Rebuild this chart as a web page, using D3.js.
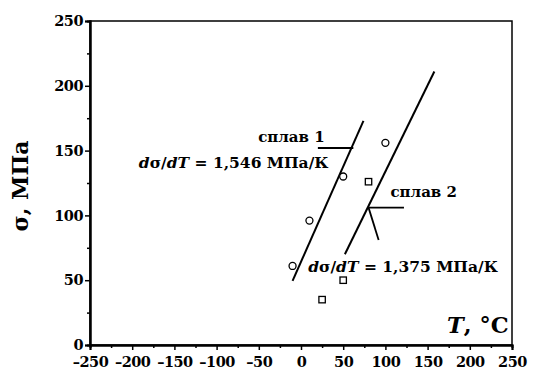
<!DOCTYPE html>
<html>
<head>
<meta charset="utf-8">
<script src="https://cdn.jsdelivr.net/npm/d3@7"></script>
<style>
  body { margin: 0; background: #fff; }
</style>
</head>
<body>
<script>
// data
var alloy1T = [-10, 10, 50, 100];
var alloy1S = [61, 96, 130, 156];
var alloy2T = [25, 50, 80];
var alloy2S = [35, 50, 126];
var fit1 = [[-10, 49.5], [74, 173]];
var fit2 = [[52, 70], [158, 211]];
var xTicks = [-250, -200, -150, -100, -50, 0, 50, 100, 150, 200, 250];
var yTicks = [0, 50, 100, 150, 200, 250];

var margin = {top: 21, right: 35, bottom: 27, left: 90},
    width = 547 - margin.left - margin.right,
    height = 372 - margin.top - margin.bottom;

var FONT = "DejaVu Serif";

var x = d3.scaleLinear().domain([-250, 250]).range([0, width]);
var y = d3.scaleLinear().domain([0, 250]).range([height, 0]);

var svg = d3.select("body").append("svg")
    .attr("width", 547)
    .attr("height", 372)
    .append("g")
    .attr("transform", "translate(" + margin.left + "," + margin.top + ")");

// frame
svg.append("rect")
    .attr("width", width)
    .attr("height", height)
    .style("fill", "none")
    .style("stroke", "#000")
    .style("stroke-width", 1.5);

var fmt = function(d) { return d < 0 ? "\u2013" + (-d) : d; };

// x axis
var xAxis = svg.append("g")
    .attr("transform", "translate(0," + height + ")")
    .call(d3.axisBottom(x).tickValues(xTicks).tickSize(5).tickPadding(4).tickFormat(fmt));
svg.append("g")
    .attr("transform", "translate(0," + height + ")")
    .call(d3.axisBottom(x).tickValues(d3.range(-225, 250, 50)).tickSize(3).tickFormat(""));

// y axis
var yAxis = svg.append("g")
    .call(d3.axisLeft(y).tickValues(yTicks).tickSize(5).tickPadding(2));
svg.append("g")
    .call(d3.axisLeft(y).tickValues(d3.range(25, 250, 50)).tickSize(3).tickFormat(""));

svg.selectAll(".domain").style("stroke-width", 2);
svg.selectAll(".tick line").style("stroke-width", 1.5);
svg.selectAll(".tick text")
    .style("font-size", "14.5px")
    .style("font-family", FONT)
    .style("font-weight", "bold")
    .style("letter-spacing", "-0.5px")
    .style("fill", "#000");
xAxis.selectAll(".tick text").attr("dy", "0.9em");

// fitted lines
var line = d3.line().x(function(d) { return x(d[0]); }).y(function(d) { return y(d[1]); });
[fit1, fit2].forEach(function(f) {
  svg.append("path")
      .attr("d", line(f))
      .style("fill", "none")
      .style("stroke", "#000")
      .style("stroke-width", 2);
});

// points
svg.selectAll("circle.a1")
    .data(d3.zip(alloy1T, alloy1S))
    .enter()
    .append("circle")
    .attr("cx", function(d) { return x(d[0]); })
    .attr("cy", function(d) { return y(d[1]); })
    .attr("r", 3.5)
    .style("fill", "#fff")
    .style("stroke", "#000")
    .style("stroke-width", 1.3);

svg.selectAll("rect.a2")
    .data(d3.zip(alloy2T, alloy2S))
    .enter()
    .append("rect")
    .attr("x", function(d) { return x(d[0]) - 3.2; })
    .attr("y", function(d) { return y(d[1]) - 3.2; })
    .attr("width", 6.4)
    .attr("height", 6.4)
    .style("fill", "#fff")
    .style("stroke", "#000")
    .style("stroke-width", 1.3);

// leader lines
function seg(a, b) {
  svg.append("line")
      .attr("x1", x(a[0])).attr("y1", y(a[1]))
      .attr("x2", x(b[0])).attr("y2", y(b[1]))
      .style("stroke", "#000").style("stroke-width", 1.8);
}
seg([20, 152], [62, 152]);
seg([80, 106], [122, 106]);
seg([80, 106], [92, 81]);

function label(xv, yv, anchor, size) {
  return svg.append("text")
      .attr("x", x(xv)).attr("y", y(yv))
      .attr("text-anchor", anchor)
      .style("font-family", FONT)
      .style("font-weight", "bold")
      .style("font-size", size + "px")
      .style("fill", "#000");
}

// annotations
label(28, 157, "end", 15).text("сплав 1");

var t1 = label(32.5, 136.3, "end", 15.5);
t1.append("tspan").style("font-style", "italic").text("d");
t1.append("tspan").text("σ/");
t1.append("tspan").style("font-style", "italic").text("dT");
t1.append("tspan").text(" = 1,546 МПа/К");

label(106, 114.5, "start", 15).text("сплав 2");

var t2 = label(8.5, 56.6, "start", 15.5);
t2.append("tspan").style("font-style", "italic").text("d");
t2.append("tspan").text("σ/");
t2.append("tspan").style("font-style", "italic").text("dT");
t2.append("tspan").text(" = 1,375 МПа/К");

// axis titles
var xt = label(246, 9.5, "end", 22.5);
xt.append("tspan").style("font-style", "italic").text("T");
xt.append("tspan").text(", °C");

svg.append("text")
    .attr("transform", "translate(" + (-62) + "," + (height / 2 + 3) + ") rotate(-90)")
    .attr("text-anchor", "middle")
    .style("font-family", FONT)
    .style("font-weight", "bold")
    .style("font-size", "22px")
    .style("fill", "#000")
    .text("σ, МПа");
</script>
</body>
</html>
